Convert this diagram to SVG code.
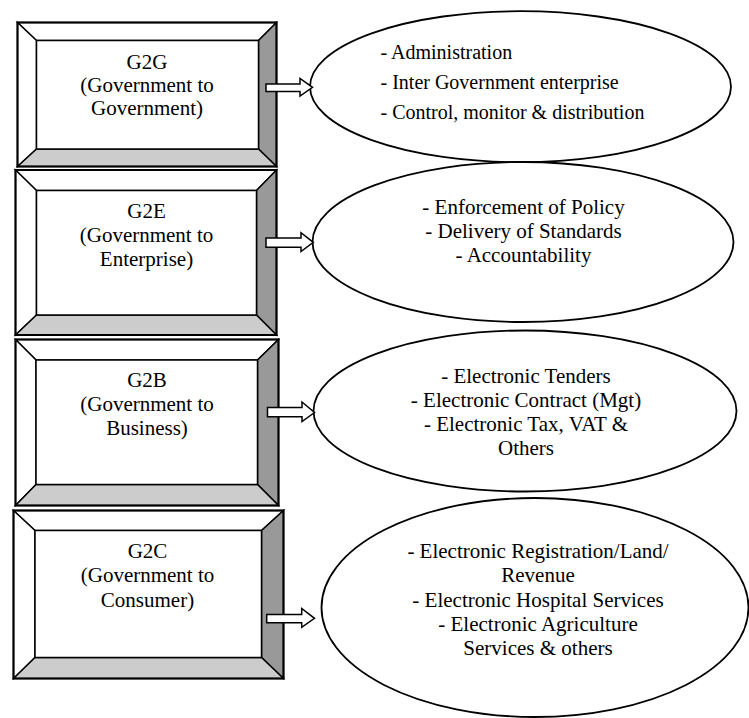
<svg xmlns="http://www.w3.org/2000/svg" width="749" height="718" viewBox="0 0 749 718">
<style>
.bv{stroke:#000;stroke-width:1.5;stroke-linejoin:miter}
.lt{fill:#fff}
.dk{fill:#999}
.md{fill:#ccc}
.ob{fill:none;stroke:#000;stroke-width:2}
.el{fill:#fff;stroke:#000;stroke-width:1.8}
.ar{fill:#fff;stroke:#000;stroke-width:1.5;stroke-linejoin:miter}
text{font-family:"Liberation Serif","Times New Roman",serif;fill:#000}
.bt{font-size:21px;text-anchor:middle}
.et{font-size:21px;text-anchor:middle}
.e1{font-size:20px}
</style>
<rect width="749" height="718" fill="#fff"/>
<g id="g2g">
<polygon class="bv lt" points="17.5,22.5 276.5,22.5 258.5,40.5 36.5,40.5"/>
<polygon class="bv lt" points="17.5,22.5 36.5,40.5 36.5,149 17.5,166.5"/>
<polygon class="bv dk" points="276.5,22.5 276.5,166.5 258.5,149 258.5,40.5"/>
<polygon class="bv md" points="17.5,166.5 36.5,149 258.5,149 276.5,166.5"/>
<rect class="bv lt" x="36.5" y="40.5" width="222" height="108.5"/>
<rect class="ob" x="17.5" y="22.5" width="259" height="144"/>
<text class="bt" x="147" y="69">G2G</text>
<text class="bt" x="147" y="92">(Government to</text>
<text class="bt" x="147" y="115">Government)</text>
</g>
<g id="g2e">
<polygon class="bv lt" points="15.5,170 276.5,170 256.5,190.5 36.5,190.5"/>
<polygon class="bv lt" points="15.5,170 36.5,190.5 36.5,315 15.5,335"/>
<polygon class="bv dk" points="276.5,170 276.5,335 256.5,315 256.5,190.5"/>
<polygon class="bv md" points="15.5,335 36.5,315 256.5,315 276.5,335"/>
<rect class="bv lt" x="36.5" y="190.5" width="220" height="124.5"/>
<rect class="ob" x="15.5" y="170" width="261" height="165"/>
<text class="bt" x="146.5" y="218">G2E</text>
<text class="bt" x="146.5" y="242">(Government to</text>
<text class="bt" x="146.5" y="266">Enterprise)</text>
</g>
<g id="g2b">
<polygon class="bv lt" points="15.5,339.5 278.5,339.5 257.5,360 36,360"/>
<polygon class="bv lt" points="15.5,339.5 36,360 36,484.5 15.5,505.5"/>
<polygon class="bv dk" points="278.5,339.5 278.5,505.5 257.5,484.5 257.5,360"/>
<polygon class="bv md" points="15.5,505.5 36,484.5 257.5,484.5 278.5,505.5"/>
<rect class="bv lt" x="36" y="360" width="221.5" height="124.5"/>
<rect class="ob" x="15.5" y="339.5" width="263" height="166"/>
<text class="bt" x="147" y="387">G2B</text>
<text class="bt" x="147" y="411">(Government to</text>
<text class="bt" x="147" y="435">Business)</text>
</g>
<g id="g2c">
<polygon class="bv lt" points="13.5,510.5 283.5,510.5 261.5,530.5 35,530.5"/>
<polygon class="bv lt" points="13.5,510.5 35,530.5 35,657.5 13.5,678.5"/>
<polygon class="bv dk" points="283.5,510.5 283.5,678.5 261.5,657.5 261.5,530.5"/>
<polygon class="bv md" points="13.5,678.5 35,657.5 261.5,657.5 283.5,678.5"/>
<rect class="bv lt" x="35" y="530.5" width="226.5" height="127"/>
<rect class="ob" x="13.5" y="510.5" width="270" height="168"/>
<text class="bt" x="147.5" y="558">G2C</text>
<text class="bt" x="147.5" y="582">(Government to</text>
<text class="bt" x="147.5" y="606.5">Consumer)</text>
</g>
<g id="g2g-items">
<ellipse class="el" cx="520.5" cy="86.7" rx="210.5" ry="75.5"/>
<text class="e1" x="380.5" y="58.5">- Administration</text>
<text class="e1" x="380.5" y="89">- Inter Government enterprise</text>
<text class="e1" x="380.5" y="119">- Control, monitor &amp; distribution</text>
</g>
<g id="g2e-items">
<ellipse class="el" cx="523" cy="242" rx="210.5" ry="80"/>
<text class="et" x="523.5" y="213.5">- Enforcement of Policy</text>
<text class="et" x="523.5" y="237.5">- Delivery of Standards</text>
<text class="et" x="523.5" y="261.5">- Accountability</text>
</g>
<g id="g2b-items">
<ellipse class="el" cx="525" cy="411" rx="211.5" ry="80.5"/>
<text class="et" x="526" y="382.5">- Electronic Tenders</text>
<text class="et" x="526" y="406.5">- Electronic Contract (Mgt)</text>
<text class="et" x="526" y="430.5">- Electronic Tax, VAT &amp;</text>
<text class="et" x="526" y="454.5">Others</text>
</g>
<g id="g2c-items">
<ellipse class="el" cx="535" cy="607.5" rx="213.5" ry="109.5"/>
<text class="et" x="538" y="557.5">- Electronic Registration/Land/</text>
<text class="et" x="538" y="581.5">Revenue</text>
<text class="et" x="538" y="606.5">- Electronic Hospital Services</text>
<text class="et" x="538" y="631">- Electronic Agriculture</text>
<text class="et" x="538" y="655">Services &amp; others</text>
</g>
<g id="connectors">
<polygon class="ar" points="266,84 300,84 300,78.5 312.5,87.3 300,96 300,91.5 266,91.5"/>
<polygon class="ar" points="266,238 301,238 301,232.7 313.3,242.3 301,251.5 301,247.3 266,247.3"/>
<polygon class="ar" points="267.5,407.5 302,407.5 302,402 314.5,412.5 302,421.5 302,416.7 267.5,416.7"/>
<polygon class="ar" points="266.7,614.5 301.7,614.5 301.7,608.5 314.5,618.3 301.7,627.3 301.7,622.8 266.7,622.8"/>
</g>
</svg>
